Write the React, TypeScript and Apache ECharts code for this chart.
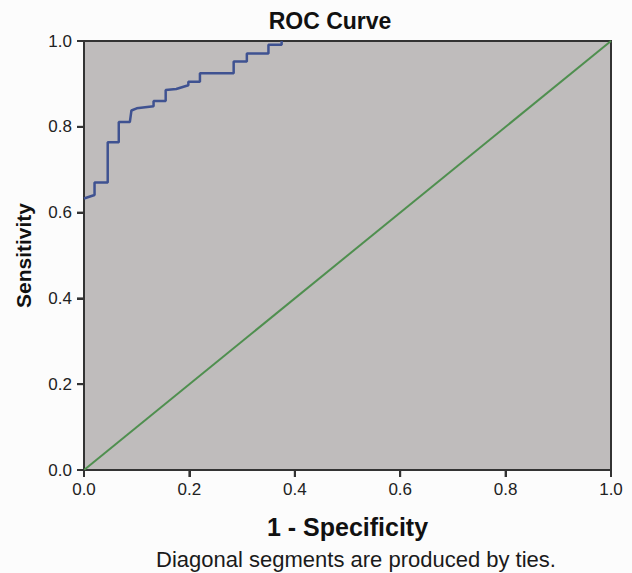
import React, { useEffect, useRef } from "react";
import * as echarts from "echarts";

// Visible part of the ROC curve (1 - specificity, sensitivity);
// the rest runs along the left axis from (0, 0) and along the top frame to (1, 1), hidden by them
const fprValues = [0, 0.02, 0.02, 0.045, 0.045, 0.066, 0.066, 0.087, 0.09, 0.1, 0.132, 0.132, 0.155, 0.155, 0.175, 0.198, 0.198, 0.22, 0.22, 0.284, 0.284, 0.309, 0.309, 0.35, 0.35, 0.375, 0.375];
const tprValues = [0.633, 0.641, 0.67, 0.67, 0.764, 0.764, 0.811, 0.811, 0.838, 0.843, 0.848, 0.86, 0.86, 0.886, 0.888, 0.897, 0.905, 0.905, 0.925, 0.925, 0.952, 0.952, 0.971, 0.971, 0.991, 0.991, 1];
const refX = [0, 1];
const refY = [0, 1];
const axisTicks = [0, 0.2, 0.4, 0.6, 0.8, 1.0];

const titleText = "ROC Curve";
const xName = "1 - Specificity";
const yName = "Sensitivity";
const footnote = "Diagonal segments are produced by ties.";

const FONT = "'Liberation Sans', Arial, sans-serif";
const FRAME = "#333333";
const TICK_LEN = 7;

export default function App() {
  const ref = useRef<HTMLDivElement>(null);
  useEffect(() => {
    if (!ref.current) return;
    const chart = echarts.init(ref.current, undefined, { renderer: "svg" });
    const curve = fprValues.map((x, i) => [x, tprValues[i]]);
    const diag = refX.map((x, i) => [x, refY[i]]);
    const axis = {
      type: "value" as const,
      min: axisTicks[0],
      max: axisTicks[axisTicks.length - 1],
      interval: 0.2,
      splitLine: { show: false },
      axisLine: { show: true, lineStyle: { color: FRAME, width: 2 } },
      axisTick: { show: true, length: TICK_LEN, lineStyle: { color: FRAME, width: 2 } },
      axisLabel: {
        color: "#222",
        fontSize: 17,
        fontFamily: FONT,
        formatter: (v: number) => v.toFixed(1),
      },
    };
    chart.setOption({
      animation: false,
      backgroundColor: "#fcfcfc",
      grid: {
        left: 84,
        right: 21,
        top: 41,
        bottom: 103,
        show: true,
        backgroundColor: "#bfbcbc",
        borderColor: FRAME,
        borderWidth: 2,
      },
      xAxis: {
        ...axis,
        axisLabel: { ...axis.axisLabel, margin: 11 },
        name: xName,
        nameLocation: "middle",
        nameGap: 44,
        nameTextStyle: { fontSize: 25, fontWeight: "bold", color: "#111", fontFamily: FONT },
      },
      yAxis: {
        ...axis,
        axisLabel: { ...axis.axisLabel, margin: 12 },
        name: yName,
        nameLocation: "middle",
        nameGap: 50,
        nameTextStyle: { fontSize: 21, fontWeight: "bold", color: "#111", fontFamily: FONT },
      },
      graphic: [
        {
          type: "text",
          x: 330,
          y: 21,
          style: {
            text: titleText,
            font: `bold 23px ${FONT}`,
            fill: "#111",
            textAlign: "center",
            textVerticalAlign: "middle",
          },
        },
        {
          type: "text",
          x: 356,
          y: 559,
          style: {
            text: footnote,
            font: `22px ${FONT}`,
            fill: "#1a1a1a",
            textAlign: "center",
            textVerticalAlign: "middle",
          },
        },
      ],
      series: [
        {
          type: "line",
          data: diag,
          showSymbol: false,
          lineStyle: { color: "#4f8f4f", width: 2 },
        },
        {
          type: "line",
          data: curve,
          showSymbol: false,
          lineStyle: { color: "#3f5291", width: 2.5 },
        },
        {
          // outward tick marks on both axes, placed through the axes' scales
          type: "custom",
          clip: false,
          silent: true,
          z: 5,
          data: axisTicks.map((v) => [v, v]),
          renderItem: (_params: any, api: any) => {
            const v = api.value(0);
            const px = api.coord([v, 0]);
            const py = api.coord([0, v]);
            const style = { stroke: FRAME, lineWidth: 2 };
            return {
              type: "group",
              children: [
                {
                  type: "line",
                  shape: { x1: px[0], y1: px[1], x2: px[0], y2: px[1] + TICK_LEN },
                  style,
                },
                {
                  type: "line",
                  shape: { x1: py[0], y1: py[1], x2: py[0] - TICK_LEN, y2: py[1] },
                  style,
                },
              ],
            };
          },
        },
      ],
    });
    return () => chart.dispose();
  }, []);
  return (
    <div
      ref={ref}
      style={{ position: "absolute", left: 0, top: 0, width: 632, height: 573 }}
    />
  );
}
